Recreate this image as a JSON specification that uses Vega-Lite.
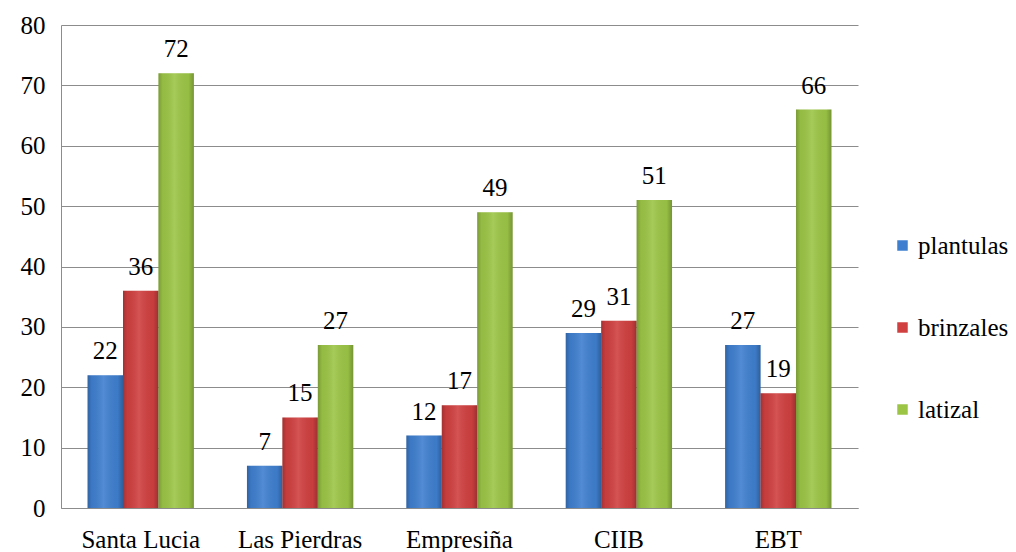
{
  "$schema": "https://vega.github.io/schema/vega-lite/v6.json",
  "width": 797,
  "height": 483,
  "autosize": {"type": "none"},
  "padding": {"left": 61, "top": 25, "right": 158, "bottom": 44},
  "background": "white",
  "config": {
    "font": "Liberation Serif",
    "view": {"stroke": null},
    "axis": {"labelFont": "Liberation Serif", "labelFontSize": 25, "labelColor": "#000000", "ticks": false, "domainColor": "#8c8c8c", "gridColor": "#8c8c8c", "title": null}
  },
  "data": {
    "values": [
      {"sitio": "Santa Lucia", "serie": "plantulas", "valor": 22},
      {"sitio": "Santa Lucia", "serie": "brinzales", "valor": 36},
      {"sitio": "Santa Lucia", "serie": "latizal", "valor": 72},
      {"sitio": "Las Pierdras", "serie": "plantulas", "valor": 7},
      {"sitio": "Las Pierdras", "serie": "brinzales", "valor": 15},
      {"sitio": "Las Pierdras", "serie": "latizal", "valor": 27},
      {"sitio": "Empresiña", "serie": "plantulas", "valor": 12},
      {"sitio": "Empresiña", "serie": "brinzales", "valor": 17},
      {"sitio": "Empresiña", "serie": "latizal", "valor": 49},
      {"sitio": "CIIB", "serie": "plantulas", "valor": 29},
      {"sitio": "CIIB", "serie": "brinzales", "valor": 31},
      {"sitio": "CIIB", "serie": "latizal", "valor": 51},
      {"sitio": "EBT", "serie": "plantulas", "valor": 27},
      {"sitio": "EBT", "serie": "brinzales", "valor": 19},
      {"sitio": "EBT", "serie": "latizal", "valor": 66}
    ]
  },
  "encoding": {
    "x": {
      "field": "sitio", "type": "nominal", "sort": null,
      "scale": {"paddingInner": 0.333, "paddingOuter": 0.1667},
      "axis": {"labelAngle": 0, "labelPadding": 19, "domain": true, "grid": false}
    },
    "xOffset": {"field": "serie", "type": "nominal", "sort": ["plantulas", "brinzales", "latizal"], "scale": {"paddingInner": 0, "paddingOuter": 0}},
    "y": {
      "field": "valor", "type": "quantitative",
      "scale": {"domain": [0, 80], "nice": false},
      "axis": {"values": [0, 10, 20, 30, 40, 50, 60, 70, 80], "labelPadding": 16, "grid": true, "domain": true}
    }
  },
  "layer": [
    {
      "mark": {"type": "bar"},
      "encoding": {
        "color": {
          "field": "serie", "type": "nominal", "sort": ["plantulas", "brinzales", "latizal"],
          "scale": {"domain": ["plantulas", "brinzales", "latizal"], "range": ["#3f7fcf", "#d04040", "#9cc546"]},
          "legend": {
            "title": null, "orient": "none", "legendX": 829, "legendY": 208,
            "symbolType": "square", "symbolSize": 110, "symbolStrokeWidth": 0,
            "labelFontSize": 25, "labelFont": "Liberation Serif", "labelColor": "#000000",
            "rowPadding": 56, "labelOffset": 3
          }
        }
      }
    },
    {
      "mark": {
        "type": "bar",
        "fill": {
          "gradient": "linear", "x1": 0, "y1": 0, "x2": 1, "y2": 0,
          "stops": [
            {"offset": 0, "color": "rgba(0,0,0,0.22)"},
            {"offset": 0.12, "color": "rgba(0,0,0,0.05)"},
            {"offset": 0.45, "color": "rgba(255,255,255,0.1)"},
            {"offset": 0.85, "color": "rgba(0,0,0,0.04)"},
            {"offset": 1, "color": "rgba(0,0,0,0.25)"}
          ]
        }
      }
    },
    {
      "mark": {"type": "text", "baseline": "bottom", "dy": -11, "fontSize": 25, "font": "Liberation Serif", "color": "#000000"},
      "encoding": {"text": {"field": "valor", "type": "quantitative"}}
    }
  ]
}
